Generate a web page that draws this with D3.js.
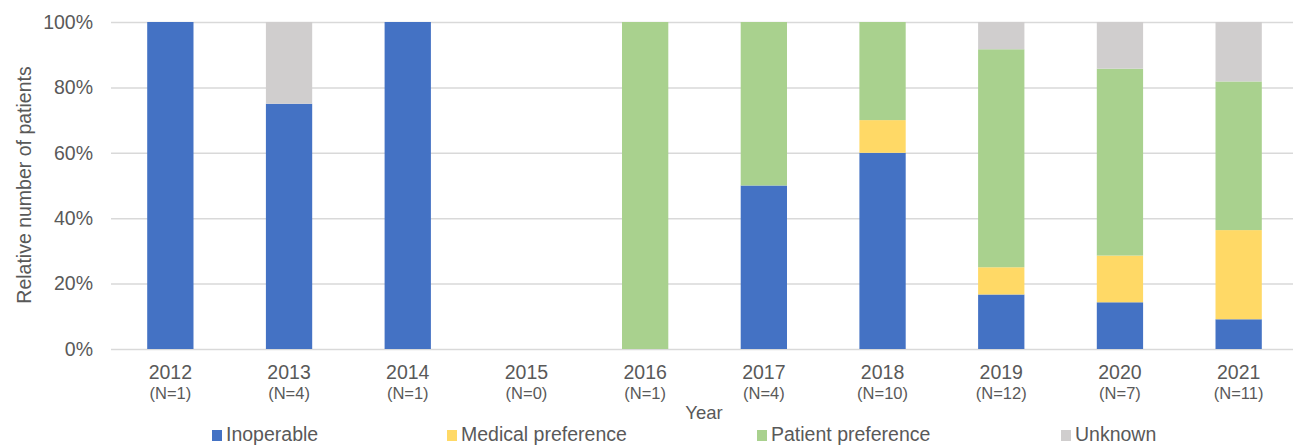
<!DOCTYPE html>
<html>
<head>
<meta charset="utf-8">
<script src="https://cdn.jsdelivr.net/npm/d3@7"></script>
<style>
  body { margin: 0; background: #fff; }
  svg { font-family: Arial, "Liberation Sans", sans-serif; }
</style>
</head>
<body>
<svg id="chart"></svg>
<script>
var years = ['2012', '2013', '2014', '2015', '2016', '2017', '2018', '2019', '2020', '2021'];
var totals = [1, 4, 1, 0, 1, 4, 10, 12, 7, 11];

var categories = ['Inoperable', 'Medical preference', 'Patient preference', 'Unknown'];
var colors = ['#4472C4', '#FFD966', '#A9D18E', '#D0CECE'];

// patient counts per year, by category
var inoperable = [1, 3, 1, 0, 0, 2, 6, 2, 1, 1];
var medical    = [0, 0, 0, 0, 0, 0, 1, 1, 1, 3];
var patient    = [0, 0, 0, 0, 1, 2, 3, 8, 4, 5];
var unknown    = [0, 1, 0, 0, 0, 0, 0, 1, 1, 2];

var yTicks = [0, 0.2, 0.4, 0.6, 0.8, 1];

var width = 1293,
  height = 445;

var svg = d3.select('#chart')
  .attr('width', width)
  .attr('height', height);

var rows = years.map(function(y, i) {
  var n = totals[i];
  return {
    year: y,
    n: n,
    'Inoperable': n ? inoperable[i] / n : 0,
    'Medical preference': n ? medical[i] / n : 0,
    'Patient preference': n ? patient[i] / n : 0,
    'Unknown': n ? unknown[i] / n : 0
  };
});

var x = d3.scaleBand()
  .domain(years)
  .range([111, 1298])
  .paddingInner(0.61)
  .paddingOuter(0.305);

var y = d3.scaleLinear()
  .domain([0, 1])
  .range([349, 22]);

var color = d3.scaleOrdinal().domain(categories).range(colors);

// gridlines
svg.append('g')
  .selectAll('line')
  .data(yTicks)
  .enter().append('line')
  .attr('x1', 111)
  .attr('x2', width)
  .attr('y1', function(d) { return y(d) + 0.5; })
  .attr('y2', function(d) { return y(d) + 0.5; })
  .attr('stroke', '#d9d9d9')
  .attr('stroke-width', 1.5);

var stack = d3.stack().keys(categories);

svg.append('g')
  .selectAll('g')
  .data(stack(rows))
  .enter().append('g')
  .attr('fill', function(d) { return color(d.key); })
  .selectAll('rect')
  .data(function(d) { return d; })
  .enter().append('rect')
  .attr('x', function(d) { return x(d.data.year); })
  .attr('width', x.bandwidth())
  .attr('y', function(d) { return y(d[1]); })
  .attr('height', function(d) { return y(d[0]) - y(d[1]); });

// y axis
var yAxis = svg.append('g')
  .attr('transform', 'translate(111,0)')
  .call(d3.axisLeft(y).tickValues(yTicks).tickFormat(d3.format('.0%')).tickSize(0).tickPadding(18));
yAxis.select('.domain').remove();
yAxis.selectAll('text')
  .attr('font-size', 19.5)
  .attr('fill', '#595959')
  .attr('font-family', 'Arial, "Liberation Sans", sans-serif');

// x axis labels
var xl = svg.append('g')
  .selectAll('g')
  .data(rows)
  .enter().append('g')
  .attr('transform', function(d) { return 'translate(' + (x(d.year) + x.bandwidth() / 2) + ',0)'; });

xl.append('text')
  .attr('y', 379)
  .attr('text-anchor', 'middle')
  .attr('font-size', 19.5)
  .attr('fill', '#595959')
  .text(function(d) { return d.year; });

xl.append('text')
  .attr('y', 399)
  .attr('text-anchor', 'middle')
  .attr('font-size', 16.5)
  .attr('fill', '#595959')
  .text(function(d) { return '(N=' + d.n + ')'; });

// axis titles
svg.append('text')
  .attr('x', 704)
  .attr('y', 419)
  .attr('text-anchor', 'middle')
  .attr('font-size', 18.5)
  .attr('fill', '#595959')
  .text('Year');

svg.append('text')
  .attr('transform', 'translate(31,185) rotate(-90)')
  .attr('text-anchor', 'middle')
  .attr('font-size', 19.5)
  .attr('fill', '#595959')
  .text('Relative number of patients');

// legend
var legendX = [212, 447, 757, 1061];
var legend = svg.append('g')
  .selectAll('g')
  .data(categories)
  .enter().append('g')
  .attr('transform', function(d, i) { return 'translate(' + legendX[i] + ',0)'; });

legend.append('rect')
  .attr('y', 430)
  .attr('width', 10)
  .attr('height', 11)
  .attr('fill', function(d) { return color(d); });

legend.append('text')
  .attr('x', 14)
  .attr('y', 441)
  .attr('font-size', 19.5)
  .attr('fill', '#595959')
  .text(function(d) { return d; });
</script>
</body>
</html>
